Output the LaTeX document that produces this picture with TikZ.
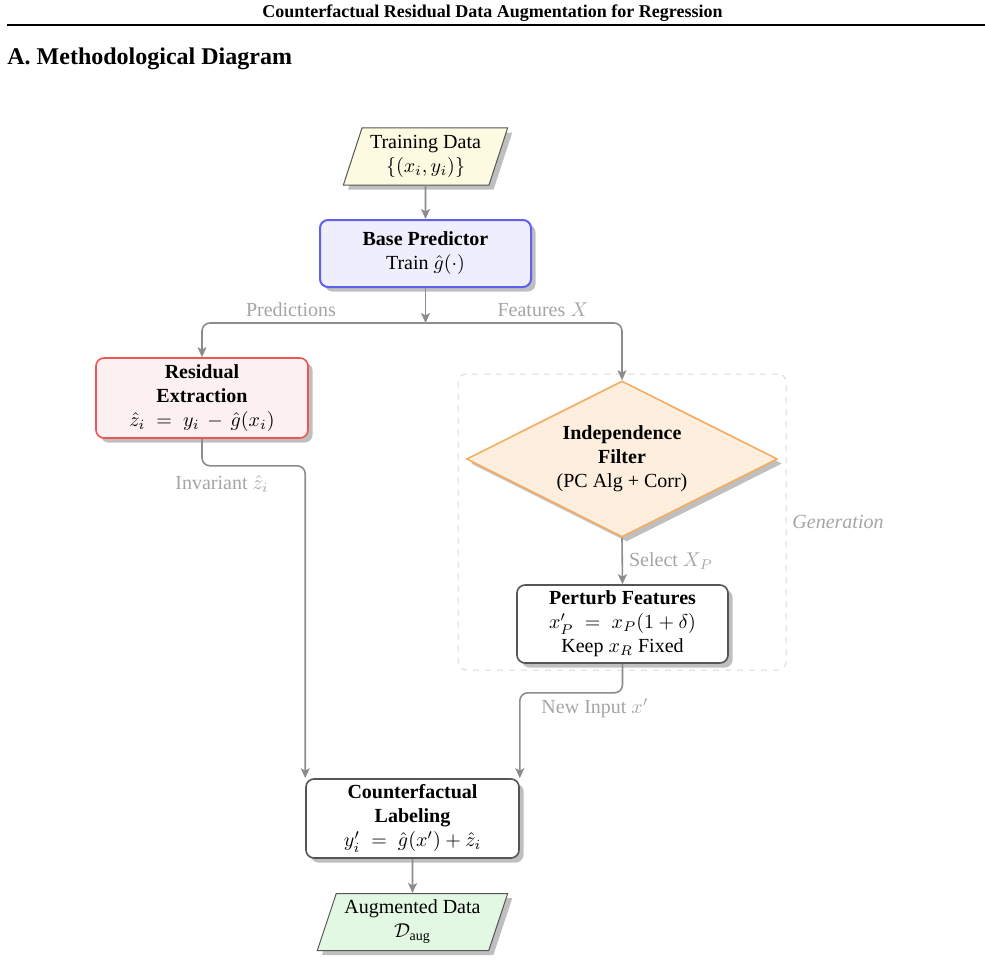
\documentclass[tikz,border=0pt]{standalone}
\usepackage{amsmath}
\usepackage[no-math]{fontspec}
\setmainfont{Liberation Serif}
\usetikzlibrary{shapes.geometric,shadows,arrows.meta}
\definecolor{conn}{RGB}{140,140,140}
\definecolor{lbl}{RGB}{165,165,165}
\definecolor{blueb}{RGB}{95,95,240}
\definecolor{bluef}{RGB}{238,238,252}
\definecolor{redb}{RGB}{240,85,85}
\definecolor{redf}{RGB}{253,240,240}
\definecolor{orangeb}{RGB}{245,172,95}
\definecolor{orangef}{RGB}{253,238,222}
\definecolor{darkb}{RGB}{85,85,85}
\definecolor{trainf}{RGB}{252,250,225}
\definecolor{augf}{RGB}{226,248,226}
\tikzset{
  box/.style={rectangle, rounded corners=4pt, line width=0.8pt, align=center,
    inner sep=2pt, drop shadow, font=\fontsize{10}{12}\selectfont},
  datanode/.style={trapezium, trapezium left angle=70, trapezium right angle=110,
    trapezium stretches=true, draw=darkb, line width=0.5pt, align=center,
    inner sep=1pt, drop shadow, font=\fontsize{10}{12}\selectfont},
  decide/.style={diamond, aspect=2, inner sep=0pt, draw=orangeb, fill=orangef,
    line width=0.8pt, align=center, drop shadow, font=\fontsize{10}{12}\selectfont},
  arr/.style={draw=conn, line width=0.8pt, -{Stealth[length=5pt,width=4.5pt,inset=1.2pt]}},
  lab/.style={text=lbl, inner sep=0pt, font=\fontsize{10}{12}\selectfont},
  grp/.style={draw=black!15, dashed, line width=0.5pt, rounded corners=4pt}
}
\begin{document}
\begin{tikzpicture}[x=0.5pt,y=-0.5pt]
\useasboundingbox (0,0) rectangle (985,963);

% header
\node[font=\fontsize{9}{11}\selectfont\bfseries, anchor=base, inner sep=0pt] (hdr) at (492.5,18)
  {Counterfactual Residual Data Augmentation for Regression};
\draw[line width=1pt] (7,25) -- (985,25);
\node[font=\fontsize{12}{14}\selectfont\bfseries, anchor=base west, inner sep=0pt] (title) at (7,65)
  {A. Methodological Diagram};

% generation group
\node[grp, minimum width=164pt, minimum height=148pt] (gen) at (622,522) {};
\node[lab, font=\fontsize{10}{12}\selectfont\itshape] (lgen) at (838,522) {Generation};

% nodes
\node[datanode, fill=trainf, minimum width=82.5pt, minimum height=28.5pt] (train) at (425.5,156.5)
  {Training Data\\$\{(x_i, y_i)\}$};
\node[box, draw=blueb, fill=bluef, line width=1pt, minimum width=105.5pt, minimum height=33.5pt] (base) at (425.5,253.5)
  {\textbf{Base Predictor}\\Train $\hat{g}(\cdot)$};
\node[box, draw=redb, fill=redf, minimum width=106pt, minimum height=40pt] (res) at (202,398)
  {\textbf{Residual}\\\textbf{Extraction}\\$\hat{z}_i \;=\; y_i \,-\, \hat{g}(x_i)$};
\node[decide, minimum width=155.5pt, minimum height=78pt] (filter) at (622,459)
  {\textbf{Independence}\\\textbf{Filter}\\(PC Alg + Corr)};
\node[box, draw=darkb, fill=white, minimum width=105.5pt, minimum height=39pt] (pert) at (622.5,624)
  {\textbf{Perturb Features}\\$x'_P \;=\; x_P(1+\delta)$\\Keep $x_R$ Fixed};
\node[box, draw=darkb, fill=white, minimum width=106.5pt, minimum height=39.5pt] (cf) at (412.5,818.5)
  {\textbf{Counterfactual}\\\textbf{Labeling}\\$y'_i \;=\; \hat{g}(x') + \hat{z}_i$};
\node[datanode, fill=augf, minimum width=95.5pt, minimum height=28.5pt] (aug) at (412.5,922)
  {Augmented Data\\$\mathcal{D}_{\text{aug}}$};

% connectors
\coordinate (split) at (425.5,323);
\draw[arr] (train.south) -- (base.north);
\draw[arr] (base.south) -- (split);
\draw[arr, rounded corners=4pt] (split) -| (res.north);
\draw[arr, rounded corners=4pt] (split) -| (filter.north);
\draw[arr, rounded corners=4pt] (res.south) -- ++(0,27) -| (cf.north west);
\draw[arr] (filter.south) -- (pert.north);
\draw[arr, rounded corners=4pt] (pert.south) -- ++(0,29) -| (cf.north east);
\draw[arr] (cf.south) -- (aug.north);

% labels
\node[lab] (lpred) at (291,310) {Predictions};
\node[lab] (lfeat) at (543,310) {Features $X$};
\node[lab] (linv) at (222,484) {Invariant $\hat{z}_i$};
\node[lab] (lsel) at (671,561) {Select $X_P$};
\node[lab] (lnew) at (595,708) {New Input $x'$};
\end{tikzpicture}
\end{document}
